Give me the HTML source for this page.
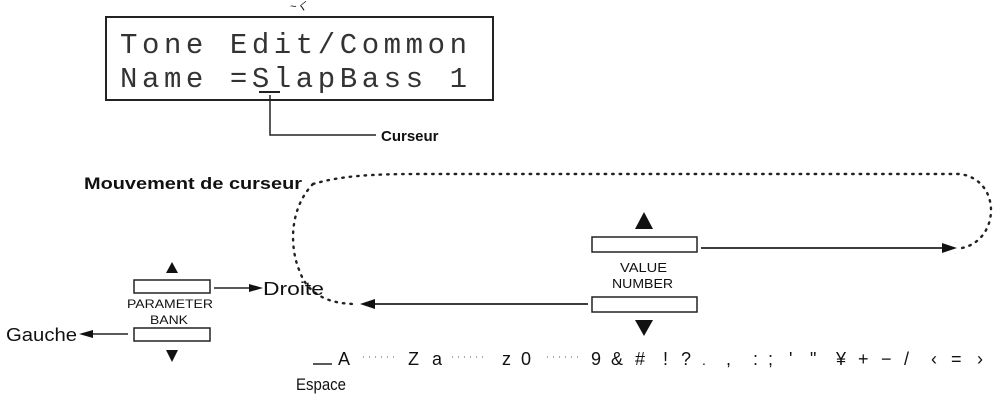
<!DOCTYPE html>
<html><head><meta charset="utf-8"><style>
html,body{margin:0;padding:0;background:#fff;width:1001px;height:403px;overflow:hidden}
svg{display:block}
.s{font-family:"Liberation Sans",Arial,sans-serif;fill:#111}
.m{font-family:"Liberation Mono",monospace;fill:#333}
</style></head><body>
<svg width="1001" height="403" viewBox="0 0 1001 403" xmlns="http://www.w3.org/2000/svg">
<text x="290" y="10" class="s" font-size="11" font-style="italic">~ㄑ</text>
<rect x="106" y="17" width="387" height="83" fill="none" stroke="#222" stroke-width="2"/>
<text x="120" y="53" class="m" font-size="29" textLength="347" lengthAdjust="spacing">Tone Edit/Common</text>
<text x="120" y="87" class="m" font-size="29" textLength="347" lengthAdjust="spacing">Name =SlapBass 1</text>
<line x1="259" y1="92" x2="280" y2="92" stroke="#222" stroke-width="2"/>
<polyline points="270,95 270,135 376,135" fill="none" stroke="#222" stroke-width="1.5"/>
<text x="381" y="141" class="s" font-size="15" font-weight="bold">Curseur</text>
<text x="84" y="189" class="s" font-size="17" font-weight="bold" textLength="218" lengthAdjust="spacingAndGlyphs">Mouvement de curseur</text>
<path d="M313,184 C340,176 370,174 420,174 L960,174 C1002,180 1000,240 962,248" fill="none" stroke="#222" stroke-width="2.4" stroke-dasharray="1.5 6" stroke-linecap="round"/>
<path d="M313,184 C288,210 290,250 300,272 C308,295 330,304 356,304" fill="none" stroke="#222" stroke-width="2.4" stroke-dasharray="1.5 6" stroke-linecap="round"/>
<!-- value number -->
<polygon points="644,212 635,229 653,229" fill="#111"/>
<rect x="592" y="237" width="105" height="15" fill="#fff" stroke="#222" stroke-width="1.5"/>
<text x="620" y="272" class="s" font-size="13" textLength="47" lengthAdjust="spacingAndGlyphs">VALUE</text>
<text x="612" y="288" class="s" font-size="13" textLength="61" lengthAdjust="spacingAndGlyphs">NUMBER</text>
<rect x="592" y="297" width="105" height="15" fill="#fff" stroke="#222" stroke-width="1.5"/>
<polygon points="644,336 635,320 653,320" fill="#111"/>
<line x1="701" y1="248" x2="945" y2="248" stroke="#222" stroke-width="1.8"/>
<polygon points="957,248 942,243 942,253" fill="#111"/>
<line x1="588" y1="304" x2="372" y2="304" stroke="#222" stroke-width="1.8"/>
<polygon points="360,304 375,299 375,309" fill="#111"/>
<!-- parameter bank -->
<polygon points="172,262 166,273 178,273" fill="#111"/>
<rect x="134" y="280" width="76" height="13" fill="#fff" stroke="#222" stroke-width="1.5"/>
<text x="127" y="308" class="s" font-size="12" textLength="86" lengthAdjust="spacingAndGlyphs">PARAMETER</text>
<text x="150" y="324" class="s" font-size="12" textLength="38" lengthAdjust="spacingAndGlyphs">BANK</text>
<rect x="134" y="328" width="76" height="13" fill="#fff" stroke="#222" stroke-width="1.5"/>
<polygon points="172,362 166,350 178,350" fill="#111"/>
<line x1="214" y1="288" x2="252" y2="288" stroke="#222" stroke-width="1.5"/>
<polygon points="263,288 249,284 249,292" fill="#111"/>
<text x="263" y="295" class="s" font-size="18" textLength="61" lengthAdjust="spacingAndGlyphs">Droite</text>
<line x1="128" y1="334" x2="90" y2="334" stroke="#222" stroke-width="1.5"/>
<polygon points="79,334 93,330 93,338" fill="#111"/>
<text x="6" y="341" class="s" font-size="18" textLength="71" lengthAdjust="spacingAndGlyphs">Gauche</text>
<!-- bottom row -->
<g class="s" font-size="18">
<line x1="313" y1="364" x2="332" y2="364" stroke="#222" stroke-width="1.5"/>
<text x="338" y="365">A</text>
<line x1="363" y1="357" x2="398" y2="357" stroke="#555" stroke-width="1" stroke-dasharray="1 5"/>
<text x="408" y="365">Z</text>
<text x="432" y="365">a</text>
<line x1="452" y1="357" x2="483" y2="357" stroke="#555" stroke-width="1" stroke-dasharray="1 5"/>
<text x="502" y="365">z</text>
<text x="521" y="365">0</text>
<line x1="547" y1="357" x2="583" y2="357" stroke="#555" stroke-width="1" stroke-dasharray="1 5"/>
<text x="591" y="365">9</text>
<text x="611" y="365">&amp;</text>
<text x="635" y="365">#</text>
<text x="663" y="365">!</text>
<text x="681" y="365">?</text>
<text x="702" y="365" font-size="14">.</text>
<text x="726" y="365">,</text>
<text x="753" y="365">:</text>
<text x="768" y="365">;</text>
<text x="789" y="365">'</text>
<text x="810" y="365">"</text>
<text x="836" y="365">¥</text>
<text x="858" y="365">+</text>
<text x="881" y="365">−</text>
<text x="904" y="365">/</text>
<text x="931" y="365">‹</text>
<text x="951" y="365">=</text>
<text x="977" y="365">›</text>
</g>
<text x="296" y="390" class="s" font-size="17" textLength="50" lengthAdjust="spacingAndGlyphs">Espace</text>
</svg>
</body></html>
